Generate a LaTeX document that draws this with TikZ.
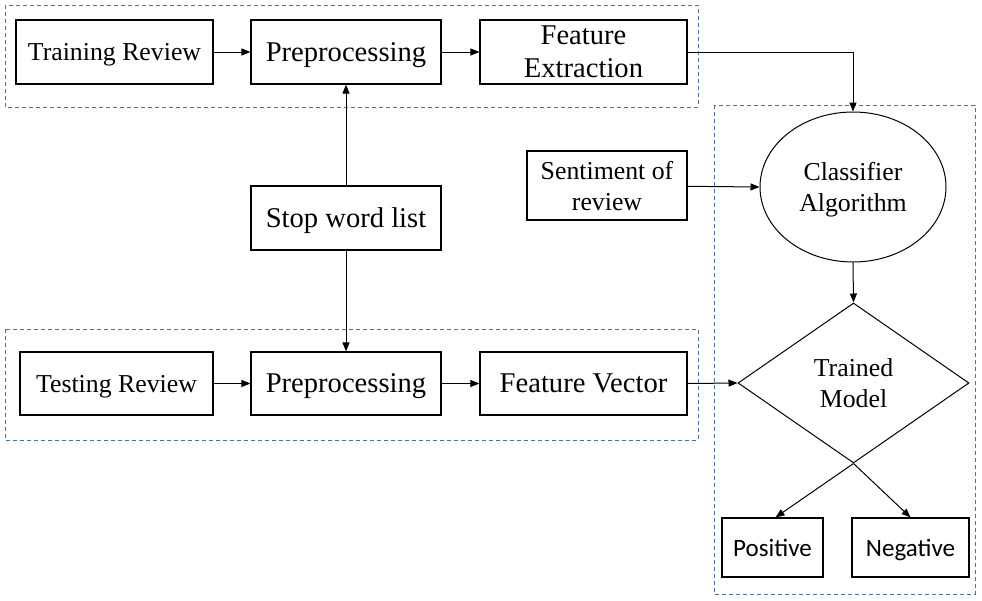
\documentclass[tikz,border=0pt]{standalone}
\usepackage{fontspec}
\setmainfont{Liberation Serif}
\newfontfamily\calib{Carlito}
\usetikzlibrary{shapes.geometric,arrows.meta}
\definecolor{grpblue}{RGB}{70,115,160}
\begin{document}
\begin{tikzpicture}[x=1pt,y=-1pt,
  boxa/.style={draw,line width=1.2pt,rectangle,inner sep=0pt,align=center,text depth=0pt,font=\fontsize{25.8}{31}\selectfont},
  boxb/.style={boxa,font=\fontsize{28.6}{33}\selectfont},
  boxc/.style={boxa,font=\calib\fontsize{25}{30}\selectfont},
  grp/.style={draw=grpblue,line width=1pt,dash pattern=on 4pt off 3pt},
  arr/.style={draw,line width=1pt,-{Triangle[length=9pt,width=7pt]}}]
\useasboundingbox (0,0) rectangle (982,600);
\fill[white] (0,0) rectangle (982,600);
% group boxes
\draw[grp] (5,5) rectangle (698,107);
\draw[grp] (5,329) rectangle (698,440);
\draw[grp] (714,105) rectangle (975,594);
% nodes
\node[boxa,minimum width=197,minimum height=64] (tr) at (114.5,52) {Training Review};
\node[boxb,minimum width=190,minimum height=64] (pre1) at (346,52) {Preprocessing};
\node[boxb,minimum width=207,minimum height=64] (fe) at (583.5,52) {Feature\\Extraction};
\node[boxa,minimum width=160,minimum height=69] (sent) at (607,185.5) {Sentiment of\\review};
\node[boxb,minimum width=190,minimum height=64] (stop) at (346,218) {Stop word list};
\node[boxa,minimum width=193,minimum height=63] (te) at (116.5,383.5) {Testing Review};
\node[boxb,minimum width=190,minimum height=63] (pre2) at (346,383.5) {Preprocessing};
\node[boxb,minimum width=207,minimum height=63] (fv) at (583.5,383.5) {Feature Vector};
\node[ellipse,draw,line width=1pt,inner sep=0pt,minimum width=186,minimum height=150,align=center,text depth=0pt,font=\fontsize{25.8}{31}\selectfont] (cls) at (853,187) {Classifier\\Algorithm};
\node[diamond,draw,line width=1pt,inner sep=0pt,aspect=1.44,minimum width=231,minimum height=160,align=center,text depth=0pt,font=\fontsize{25.8}{31}\selectfont] (tm) at (853.5,383) {Trained\\Model};
\node[boxc,minimum width=101,minimum height=59] (pos) at (772.5,547.5) {Positive};
\node[boxc,minimum width=117,minimum height=59] (neg) at (910.5,547.5) {Negative};
% connectors
\draw[arr] (tr) -- (pre1);
\draw[arr] (pre1) -- (fe);
\draw[arr] (te) -- (pre2);
\draw[arr] (pre2) -- (fv);
\draw[arr] (stop) -- (pre1);
\draw[arr] (stop) -- (pre2);
\draw[arr] (fe.east) -| (cls.north);
\draw[arr] (sent) -- (cls.west);
\draw[arr] (fv.east) -- (tm.west);
\draw[arr] (cls.south) -- (tm.north);
\draw[arr] (tm.south) -- ([xshift=3pt]pos.north);
\draw[arr] (tm.south) -- (neg.north);
\end{tikzpicture}
\end{document}
